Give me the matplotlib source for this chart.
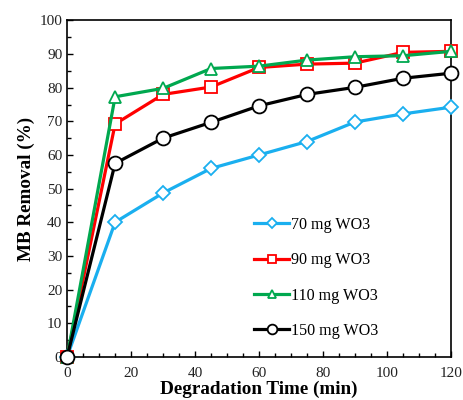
import matplotlib
matplotlib.use('Agg')
from matplotlib import pyplot as plt
from matplotlib.ticker import MultipleLocator

plt.rcParams['font.family'] = ['Liberation Serif', 'DejaVu Serif']

# tempo de degradacao (min)
tempo = [0, 15, 30, 45, 60, 75, 90, 105, 120]

# remocao de MB (%)
remocao_70 = [0, 40.0, 48.7, 56.0, 60.0, 64.0, 69.8, 72.2, 74.2]
remocao_90 = [0, 69.2, 78.0, 80.2, 86.0, 87.0, 87.3, 90.5, 90.8]
remocao_110 = [0, 77.3, 79.8, 85.7, 86.4, 88.2, 89.2, 89.5, 90.8]
remocao_150 = [0, 57.5, 65.0, 69.7, 74.6, 78.0, 80.1, 82.8, 84.3]

series = [
    (remocao_70, '70 mg WO3', '#1AAFEF', 'D', 7),
    (remocao_90, '90 mg WO3', '#FF0000', 's', 9),
    (remocao_110, '110 mg WO3', '#00A84F', '^', 9),
    (remocao_150, '150 mg WO3', '#000000', 'o', 10),
]

fig = plt.figure(figsize=(4.63, 4.00), dpi=100)
ax = fig.add_axes([0.145, 0.108, 0.829, 0.841])

for y, label, cor, marker, ms in series:
    ax.plot(tempo, y, color=cor, lw=2.3, marker=marker, markersize=ms,
            markerfacecolor='white', markeredgecolor=cor, markeredgewidth=1.3,
            label=label, clip_on=False, zorder=3)

ax.set_xlim(0, 120)
ax.set_ylim(0, 100)
ax.xaxis.set_major_locator(MultipleLocator(20))
ax.xaxis.set_minor_locator(MultipleLocator(5))
ax.yaxis.set_major_locator(MultipleLocator(10))
ax.yaxis.set_minor_locator(MultipleLocator(5))
ax.tick_params(which='both', direction='in', top=False, right=False,
               labelsize=11, labelcolor='#222222')
ax.tick_params(which='major', length=4, width=1)
ax.tick_params(which='minor', length=3, width=1)
ax.tick_params(axis='x', pad=7)
for s in ax.spines.values():
    s.set_linewidth(1.2)

ax.set_xlabel('Degradation Time (min)', fontsize=13.8, fontweight='bold', labelpad=1)
ax.set_ylabel('MB Removal (%)', fontsize=13.8, fontweight='bold', labelpad=3)

ax.legend(loc='upper left', bbox_to_anchor=(0.47, 0.435), frameon=False,
          fontsize=11.6, labelspacing=1.2, handlelength=2.2, handletextpad=0.1,
          markerscale=0.7, borderaxespad=0)

fig.savefig('out.png', dpi=100)
